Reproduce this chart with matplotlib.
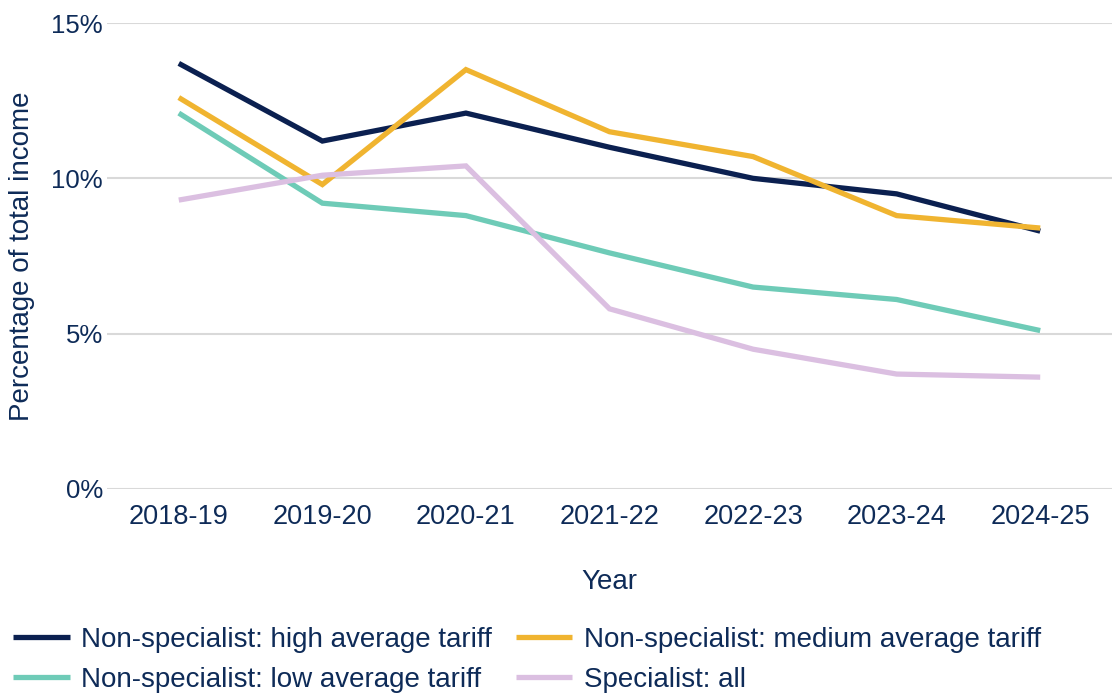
import matplotlib
matplotlib.use("Agg")
import matplotlib.pyplot as plt
from matplotlib.ticker import FuncFormatter

years = ["2018-19", "2019-20", "2020-21", "2021-22", "2022-23", "2023-24", "2024-25"]
high_tariff = [13.7, 11.2, 12.1, 11.0, 10.0, 9.5, 8.3]
medium_tariff = [12.6, 9.8, 13.5, 11.5, 10.7, 8.8, 8.4]
low_tariff = [12.1, 9.2, 8.8, 7.6, 6.5, 6.1, 5.1]
specialist = [9.3, 10.1, 10.4, 5.8, 4.5, 3.7, 3.6]

series_names = [
    "Non-specialist: high average tariff",
    "Non-specialist: medium average tariff",
    "Non-specialist: low average tariff",
    "Specialist: all",
]
colors = ["#0b2050", "#f0b430", "#6ecbb7", "#dbbfe1"]
text_color = "#0e2b58"

plt.rcParams["font.family"] = ["Liberation Sans", "DejaVu Sans"]

fig = plt.figure(figsize=(11.12, 6.95), dpi=100)
ax = fig.add_axes([107 / 1112, 1 - 489 / 695, 1 - 107 / 1112, (489 - 23) / 695])

x = list(range(len(years)))
lines = []
for vals, name, c in zip([high_tariff, medium_tariff, low_tariff, specialist], series_names, colors):
    ln, = ax.plot(x, vals, color=c, lw=3.8, label=name, solid_capstyle="butt", solid_joinstyle="miter")
    lines.append(ln)

ax.set_xlim(-0.5, len(years) - 0.5)
ax.set_ylim(0, 15)
ax.set_yticks([0, 5, 10, 15])
ax.yaxis.set_major_formatter(FuncFormatter(lambda v, p: f"{v:.0f}%"))
ax.set_xticks(x)
ax.set_xticklabels(years)
ax.grid(axis="y", color="#d9d9d9", lw=1.5)
ax.set_axisbelow(True)
for s in ax.spines.values():
    s.set_visible(False)
ax.tick_params(axis="both", length=0, colors=text_color)
ax.tick_params(axis="x", pad=11, labelsize=19.5)
ax.tick_params(axis="y", pad=3, labelsize=18.5)
ax.set_xlabel("Year", fontsize=20, color=text_color, labelpad=28)
ax.set_ylabel("Percentage of total income", fontsize=20, color=text_color, labelpad=12)

# row-major order in the legend: matplotlib fills column by column
order = [0, 2, 1, 3]
fig.legend(
    [lines[i] for i in order],
    [series_names[i] for i in order],
    loc="lower left",
    bbox_to_anchor=(13 / 1112, 2 / 695),
    ncol=2,
    frameon=False,
    fontsize=20,
    labelcolor=text_color,
    handlelength=2.05,
    handletextpad=0.4,
    columnspacing=0.85,
    labelspacing=0.52,
    borderpad=0,
    borderaxespad=0,
)

fig.savefig("out.png", dpi=100)
